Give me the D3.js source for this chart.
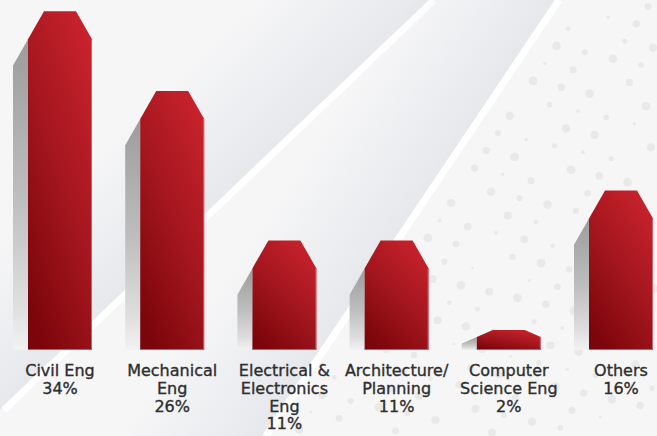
<!DOCTYPE html>
<html>
<head>
<meta charset="utf-8">
<script src="https://cdn.jsdelivr.net/npm/d3@7"></script>
<style>
  html, body { margin: 0; padding: 0; background: #f6f6f7; }
  svg { display: block; }
</style>
</head>
<body>
<svg id="chart" width="657" height="436"></svg>
<script>
// ---- data ----
const categories = ["Civil Eng", "Mechanical Eng", "Electrical & Electronics Eng", "Architecture/ Planning", "Computer Science Eng", "Others"];
const labelLines = [["Civil Eng"], ["Mechanical", "Eng"], ["Electrical &", "Electronics", "Eng"], ["Architecture/", "Planning"], ["Computer", "Science Eng"], ["Others"]];
const values = [34, 26, 11, 11, 2, 16];
const valueSuffix = "%";

const W = 657, H = 436;
const svg = d3.select("#chart");
const defs = svg.append("defs");

// ---- background ----
svg.append("rect").attr("width", W).attr("height", H).attr("fill", "#f6f6f7");

// diagonal folded-paper stripes
const stripes = [
  { p0: [430, 0], p1: [0, 410] },
  { p0: [555, 0], p1: [262, 436] }
];
stripes.forEach((s, i) => {
  const dx = s.p1[0] - s.p0[0], dy = s.p1[1] - s.p0[1];
  const len = Math.hypot(dx, dy);
  const nx = dy / len, ny = -dx / len;
  const sx = nx > 0 ? -nx : nx, sy = nx > 0 ? -ny : ny;
  const mx = (s.p0[0] + s.p1[0]) / 2, my = (s.p0[1] + s.p1[1]) / 2;
  const g = defs.append("linearGradient").attr("id", "stripeShade" + i)
    .attr("gradientUnits", "userSpaceOnUse")
    .attr("x1", mx).attr("y1", my)
    .attr("x2", mx + sx * 120).attr("y2", my + sy * 120);
  g.append("stop").attr("offset", 0).attr("stop-color", "#d3d7de").attr("stop-opacity", 0.45);
  g.append("stop").attr("offset", 1).attr("stop-color", "#d3d7de").attr("stop-opacity", 0);
  svg.append("path")
    .attr("d", `M${s.p0[0]},${s.p0[1]} L${s.p1[0]},${s.p1[1]} L${s.p1[0] - 700},${s.p1[1]} L${s.p0[0] - 700},${s.p0[1]} Z`)
    .attr("fill", `url(#stripeShade${i})`);
  svg.append("line")
    .attr("x1", s.p0[0] + 4).attr("y1", s.p0[1]).attr("x2", s.p1[0] + 4).attr("y2", s.p1[1])
    .attr("stroke", "#ffffff").attr("stroke-width", 7);
});

// subtle dot pattern (decoration) right of the second stripe
const lineBx = yy => 555 - yy * (293 / 436);
const ux = -0.557 * 21, uy = 0.830 * 21;   // along stripe
const vx = 0.830 * 27, vy = 0.557 * 27;    // across stripe
const dots = [];
d3.range(-10, 34).forEach(i => {
  d3.range(-4, 22).forEach(j => {
    const px = 575 + i * ux + j * vx + (j % 2) * ux * 0.5;
    const py = -30 + i * uy + j * vy + (j % 2) * uy * 0.5;
    if ((i * 7 + j * 3) % 5 === 0) return;
    if (px > 4 && px < W - 2 && py > 4 && py < H - 2 && px > lineBx(py) + 22) {
      const r = 1.2 + 3.2 * Math.abs(Math.sin(i * 1.73 + j * 2.41));
      dots.push({ px, py, r });
    }
  });
});
svg.append("g").selectAll("circle").data(dots).join("circle")
  .attr("cx", d => d.px).attr("cy", d => d.py).attr("r", d => d.r)
  .attr("fill", "#e9e9ea");

// ---- scales ----
const x = d3.scaleBand().domain(categories).range([28, 653]).paddingInner(0.4296).paddingOuter(0);
const y = d3.scaleLinear().domain([0, 34]).range([350, 11.3]);
const bw = x.bandwidth();

// gradients
const barGrad = defs.append("linearGradient").attr("id", "barGrad")
  .attr("x1", 0.8).attr("y1", 0).attr("x2", 0.2).attr("y2", 1);
barGrad.append("stop").attr("offset", 0).attr("stop-color", "#c8222c");
barGrad.append("stop").attr("offset", 0.5).attr("stop-color", "#a3161e");
barGrad.append("stop").attr("offset", 1).attr("stop-color", "#7a050a");

const shGrad = defs.append("linearGradient").attr("id", "shGrad")
  .attr("x1", 0).attr("y1", 0).attr("x2", 0).attr("y2", 1);
shGrad.append("stop").attr("offset", 0).attr("stop-color", "#9c9c9c");
shGrad.append("stop").attr("offset", 0.5).attr("stop-color", "#bdbdbd");
shGrad.append("stop").attr("offset", 0.85).attr("stop-color", "#dedede");
shGrad.append("stop").attr("offset", 1).attr("stop-color", "#f2f2f2");

const data = categories.map((c, i) => ({ c, v: values[i], lines: labelLines[i] }));

function geom(d) {
  const x0 = x(d.c), x1 = x0 + bw, yt = y(d.v), yb = y(0);
  const h = yb - yt;
  const cv = Math.min(28, h * 0.35), ch = 16;
  return { x0, x1, yt, yb, cv, ch };
}

// shadows
svg.append("g").selectAll("path").data(data).join("path")
  .attr("d", d => {
    const g = geom(d);
    const off = 15;
    const yc = g.yt + g.cv;
    return `M${g.x0},${yc} L${g.x0 - off},${yc + g.cv * off / g.ch} L${g.x0 - off},${g.yb} L${g.x0},${g.yb} Z`;
  })
  .attr("fill", "url(#shGrad)");

// bars
svg.append("g").selectAll("path").data(data).join("path")
  .attr("d", d => {
    const g = geom(d);
    return `M${g.x0},${g.yb} L${g.x0},${g.yt + g.cv} L${g.x0 + g.ch},${g.yt} L${g.x1 - g.ch},${g.yt} L${g.x1},${g.yt + g.cv} L${g.x1},${g.yb} Z`;
  })
  .attr("fill", "url(#barGrad)");

// edge highlight (right + bottom)
svg.append("g").selectAll("path").data(data).join("path")
  .attr("d", d => {
    const g = geom(d);
    return `M${g.x1 - 0.5},${g.yt + g.cv} L${g.x1 - 0.5},${g.yb - 0.5} L${g.x0},${g.yb - 0.5}`;
  })
  .attr("fill", "none").attr("stroke", "#d9727a").attr("stroke-width", 1).attr("stroke-opacity", 0.8);

// labels
const lab = svg.append("g")
  .attr("font-family", "'DejaVu Sans', sans-serif")
  .attr("font-size", 16)
  .attr("fill", "#2e2e2e")
  .attr("stroke", "#2e2e2e")
  .attr("stroke-width", 0.35)
  .attr("text-anchor", "middle");
data.forEach(d => {
  const cx = x(d.c) + bw / 2;
  const t = lab.append("text").attr("x", cx).attr("y", 376);
  const lines = d.lines.concat([d.v + valueSuffix]);
  lines.forEach((ln, k) => {
    t.append("tspan").attr("x", cx).attr("dy", k === 0 ? 0 : 17.8).text(ln);
  });
});
</script>
</body>
</html>
